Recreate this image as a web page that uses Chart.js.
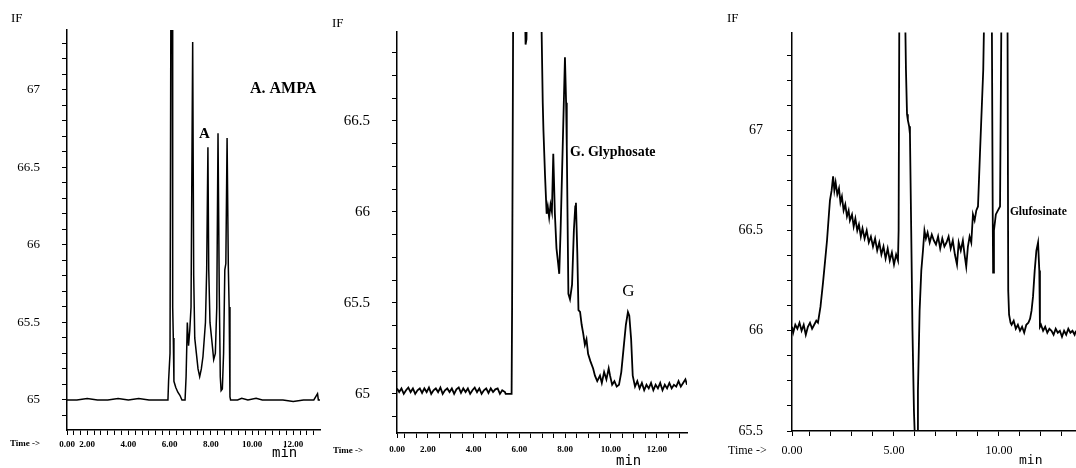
<!DOCTYPE html>
<html>
<head>
<meta charset="utf-8">
<script src="https://cdn.jsdelivr.net/npm/chart.js@4.4.1/dist/chart.umd.min.js"></script>
<style>
  html, body { margin: 0; padding: 0; background: #fff; }
  #page { position: relative; width: 1076px; height: 468px; overflow: hidden; background: #fff; }
  canvas { position: absolute; top: 0; }
  .lbl { position: absolute; font-family: "Liberation Serif", serif; color: #000; white-space: nowrap; line-height: 1; }
  .unit { position: absolute; font-family: "DejaVu Sans Mono", monospace; color: #000; line-height: 1; }
</style>
</head>
<body>
<div id="page">
  <canvas id="c1" width="330" height="468" style="left:0px"></canvas>
  <canvas id="c2" width="370" height="468" style="left:330px"></canvas>
  <canvas id="c3" width="376" height="468" style="left:700px"></canvas>

  <div class="lbl" style="left:11px;top:11px;font-size:13px">IF</div>
  <div class="lbl" style="left:332px;top:16px;font-size:13px">IF</div>
  <div class="lbl" style="left:727px;top:11px;font-size:13px">IF</div>

  <div class="lbl" style="left:10px;top:439px;font-size:9px;font-weight:bold">Time -&gt;</div>
  <div class="lbl" style="left:333px;top:446px;font-size:9px;font-weight:bold">Time -&gt;</div>
  <div class="lbl" style="left:728px;top:444px;font-size:12px">Time -&gt;</div>

  <div class="unit" style="left:272px;top:445px;font-size:14px">min</div>
  <div class="unit" style="left:616px;top:453px;font-size:14px">min</div>
  <div class="unit" style="left:1019px;top:453px;font-size:13px">min</div>
</div>
<script>
// A. AMPA trace (time in min, IF)
const ampaTime = [1.02, 1.5, 2.0, 2.5, 3.0, 3.5, 4.0, 4.5, 5.0, 5.5, 5.92,
  5.95, 6.02, 6.07, 6.12, 6.15, 6.18, 6.21, 6.3, 6.4, 6.5, 6.6, 6.75,
  6.8, 6.86, 6.92, 6.98, 7.04, 7.12, 7.17, 7.22, 7.3, 7.38, 7.46, 7.54, 7.62,
  7.74, 7.8, 7.86, 7.9, 7.96, 8.06, 8.14, 8.22, 8.29, 8.35, 8.41, 8.46, 8.5,
  8.56, 8.62, 8.68, 8.73, 8.79, 8.85, 8.89, 8.93, 8.96,
  9.3, 9.5, 9.8, 10.2, 10.5, 11.0, 11.5, 12.0, 12.5, 13.0, 13.18, 13.22, 13.3];
const ampaIF = [65.0, 65.0, 65.01, 65.0, 65.0, 65.01, 65.0, 65.01, 65.0, 65.0, 65.0,
  65.12, 65.3, 68.0, 68.0, 65.6, 65.4, 65.12, 65.08, 65.05, 65.03, 65.0, 65.0,
  65.15, 65.5, 65.35, 65.45, 65.6, 67.31, 65.8, 65.4, 65.3, 65.2, 65.15, 65.2, 65.28,
  65.5, 65.84, 66.63, 65.84, 65.5, 65.37, 65.26, 65.3, 65.6, 66.72, 65.7, 65.15, 65.06,
  65.07, 65.3, 65.84, 65.88, 66.69, 65.86, 65.6, 65.02, 65.0,
  65.0, 65.01, 65.0, 65.01, 65.0, 65.0, 65.0, 64.99, 65.0, 65.0, 65.04, 65.0, 65.0];

// G. Glyphosate trace
const glyTime = [0.655, 0.75, 0.85, 0.95, 1.05, 1.15, 1.25, 1.35, 1.45, 1.55, 1.65,
  1.75, 1.85, 1.95, 2.05, 2.15, 2.25, 2.35, 2.45, 2.55, 2.65, 2.75, 2.85, 2.95,
  3.05, 3.15, 3.25, 3.35, 3.45, 3.55, 3.65, 3.75, 3.85, 3.95, 4.05, 4.15, 4.25,
  4.35, 4.45, 4.55, 4.65, 4.75, 4.85, 4.95, 5.05, 5.15, 5.25, 5.37, 5.4, 5.66, 5.68, 5.74,
  6.2, 6.27, 6.31, 6.35, 6.94, 6.97, 7.02, 7.05, 7.12, 7.19, 7.24, 7.3, 7.36, 7.42,
  7.48, 7.55, 7.62, 7.69, 7.74, 7.8, 7.9, 7.99, 8.04, 8.07, 8.14, 8.21, 8.3, 8.38,
  8.44, 8.47, 8.53, 8.58, 8.65, 8.72, 8.79, 8.86, 8.93, 9.0, 9.1, 9.22, 9.3, 9.4,
  9.52, 9.6, 9.7, 9.8, 9.9, 9.96, 10.05, 10.15, 10.25, 10.35, 10.45, 10.55, 10.65,
  10.74, 10.8, 10.88, 10.95, 11.05, 11.15, 11.25, 11.35, 11.45, 11.55, 11.65, 11.75,
  11.85, 11.95, 12.05, 12.15, 12.25, 12.35, 12.45, 12.55, 12.65, 12.75, 12.85, 12.95,
  13.05, 13.15, 13.25, 13.32];
const glyIF = [65.03, 65.01, 65.03, 65.0, 65.02, 65.035, 65.01, 65.03, 65.0, 65.02, 65.03,
  65.005, 65.03, 65.01, 65.035, 65.0, 65.02, 65.03, 65.01, 65.035, 65.0, 65.02, 65.03, 65.01,
  65.03, 65.0, 65.025, 65.035, 65.005, 65.03, 65.01, 65.03, 65.0, 65.02, 65.035, 65.01, 65.03,
  65.0, 65.02, 65.03, 65.005, 65.03, 65.01, 65.025, 65.03, 65.0, 65.02, 65.01, 65.0, 65.0, 65.45, 67.5,
  67.5, 66.92, 66.95, 67.5, 67.5, 67.0, 66.6, 66.45, 66.2, 65.99, 66.03, 65.97, 66.04, 66.0,
  66.32, 65.99, 65.8, 65.72, 65.66, 65.9, 66.4, 66.85, 66.6, 66.36, 65.55, 65.52, 65.6, 65.9,
  66.03, 66.05, 65.77, 65.46, 65.45, 65.38, 65.33, 65.27, 65.3, 65.22, 65.18, 65.14, 65.1, 65.07,
  65.1, 65.06, 65.12, 65.08, 65.14, 65.1, 65.05, 65.07, 65.04, 65.05, 65.12, 65.25, 65.38,
  65.45, 65.43, 65.3, 65.1, 65.04, 65.07, 65.03, 65.06, 65.02, 65.05, 65.03, 65.06,
  65.02, 65.05, 65.03, 65.06, 65.02, 65.05, 65.03, 65.06, 65.03, 65.05, 65.04, 65.07,
  65.04, 65.06, 65.08, 65.05];

// Glufosinate trace
const gluTime = [0.143, 0.2, 0.3, 0.4, 0.5, 0.6, 0.7, 0.8, 0.9, 1.0, 1.1, 1.2, 1.3, 1.38,
  1.5, 1.62, 1.72, 1.81, 1.9, 1.95, 2.03, 2.1, 2.16, 2.22, 2.3, 2.38, 2.45, 2.52, 2.6,
  2.68, 2.76, 2.84, 2.9, 3.0, 3.08, 3.16, 3.25, 3.33, 3.42, 3.5, 3.6, 3.7, 3.8, 3.9,
  4.0, 4.1, 4.2, 4.3, 4.4, 4.5, 4.6, 4.7, 4.8, 4.9, 5.0, 5.1, 5.19, 5.22, 5.26, 5.5,
  5.57, 5.62, 5.66, 5.72, 5.76, 5.82, 5.88, 5.95, 6.0, 6.05, 6.1, 6.14, 6.22, 6.3,
  6.38, 6.45, 6.52, 6.6, 6.7, 6.8, 6.9, 7.0, 7.1, 7.2, 7.3, 7.4, 7.5, 7.6, 7.7, 7.8,
  7.9, 8.0, 8.08, 8.18, 8.28, 8.36, 8.44, 8.52, 8.6, 8.68, 8.76, 8.84, 8.92, 9.0,
  9.1, 9.25, 9.33, 9.65, 9.7, 9.72, 9.76, 9.85, 9.95, 10.05, 10.13, 10.4, 10.44,
  10.48, 10.55, 10.6, 10.7, 10.8, 10.9, 11.0, 11.1, 11.2, 11.3, 11.4, 11.48, 11.55,
  11.62, 11.7, 11.78, 11.86, 11.92, 11.95, 12.0, 12.1, 12.2, 12.3, 12.4, 12.5, 12.6,
  12.7, 12.8, 12.9, 13.0, 13.1, 13.2, 13.3, 13.4, 13.5, 13.6, 13.667];
const gluIF = [66.02, 65.99, 66.03, 66.01, 66.04, 66.0, 66.03, 65.98, 66.02, 66.04, 66.01, 66.03, 66.05, 66.04,
  66.12, 66.24, 66.35, 66.45, 66.58, 66.65, 66.7, 66.77, 66.7, 66.74, 66.68, 66.71, 66.64, 66.67, 66.6,
  66.63, 66.57, 66.6, 66.55, 66.58, 66.52, 66.56, 66.5, 66.53, 66.47, 66.51, 66.46, 66.5, 66.44, 66.47,
  66.42, 66.46, 66.4, 66.44, 66.38, 66.42, 66.36, 66.41, 66.35, 66.39, 66.33, 66.38, 66.35, 66.5, 67.8, 67.8,
  67.3, 67.08, 67.05, 67.02, 66.98, 66.5, 66.0, 65.6, 65.45, 65.3, 65.45, 65.7, 66.1, 66.3,
  66.4, 66.5, 66.46, 66.49, 66.44, 66.48, 66.45, 66.43, 66.47, 66.41, 66.46, 66.42, 66.44, 66.47, 66.41, 66.45,
  66.38, 66.33, 66.44, 66.4, 66.45, 66.38, 66.32, 66.42, 66.47, 66.44, 66.58, 66.55, 66.6, 66.62,
  66.9, 67.3, 67.8, 67.8, 66.6, 66.29, 66.5, 66.58, 66.6, 66.62, 67.8, 67.8, 66.2,
  66.08, 66.04, 66.03, 66.05, 66.01, 66.03, 66.0, 66.02, 65.99, 66.03, 66.04, 66.06, 66.1,
  66.17, 66.3, 66.4, 66.44, 66.3, 66.02, 66.03, 66.0, 66.02, 65.99, 66.01, 66.0, 65.98,
  66.01, 65.99, 66.0, 65.97, 66.0, 65.98, 66.01, 65.99, 66.0, 65.98, 66.0];

// labelled ticks
const ampaTimeLabels = [2, 4, 6, 8, 10, 12];
const glyTimeLabels = [2, 4, 6, 8, 10, 12];
const gluTimeLabels = [5, 10];
const ampaIFLabels = [65, 65.5, 66, 66.5, 67];
const glyIFLabels = [65, 65.5, 66, 66.5];
const gluIFLabels = [65.5, 66, 66.5, 67];

function makeTicks(lo, hi, step, first) {
  const out = [];
  if (first != null) out.push(first);
  const k0 = Math.ceil(lo / step - 1e-9);
  for (let k = k0; k * step <= hi + 1e-9; k++) {
    const v = Math.round(k * step * 1000) / 1000;
    if (first != null && v - first < step * 0.5) continue;
    out.push(v);
  }
  return out.map(v => ({ value: v }));
}

function has(list, v) {
  return list.some(l => Math.abs(l - v) < 1e-6);
}

const notes = {
  id: 'notes',
  afterDatasetsDraw(chart, args, opts) {
    const { ctx, scales } = chart;
    (opts.items || []).forEach(n => {
      ctx.save();
      ctx.font = n.font;
      ctx.fillStyle = '#000';
      ctx.textAlign = n.align || 'left';
      ctx.textBaseline = 'middle';
      ctx.fillText(n.text, scales.x.getPixelForValue(n.t), scales.y.getPixelForValue(n.v));
      ctx.restore();
    });
  }
};

function panel(id, cfg) {
  const pts = cfg.time.map((t, i) => ({ x: t, y: cfg.values[i] }));
  return new Chart(document.getElementById(id), {
    type: 'line',
    data: {
      datasets: [{
        data: pts,
        borderColor: '#000',
        borderWidth: cfg.lineWidth,
        pointRadius: 0,
        tension: 0,
        fill: false,
        clip: 0
      }]
    },
    options: {
      responsive: false,
      animation: false,
      events: [],
      layout: { padding: cfg.padding },
      plugins: {
        legend: { display: false },
        tooltip: { enabled: false },
        notes: { items: cfg.notes }
      },
      scales: {
        x: {
          type: 'linear',
          min: cfg.xMin,
          max: cfg.xMax,
          afterBuildTicks: s => { s.ticks = makeTicks(cfg.xMin, cfg.xMax, cfg.xStep, cfg.xMin); },
          afterFit: s => { s.height = cfg.xHeight; },
          grid: { drawOnChartArea: false, drawTicks: true, tickLength: 5, color: '#000', lineWidth: 1 },
          border: { display: true, color: '#000', width: 1.5 },
          ticks: {
            autoSkip: false,
            maxRotation: 0,
            minRotation: 0,
            padding: cfg.xPad,
            color: '#000',
            font: { family: 'Liberation Serif', size: cfg.xFont, weight: cfg.xWeight },
            callback: (v, i) => i === 0 ? '0.00' : (has(cfg.xLabels, v) ? v.toFixed(2) : '')
          }
        },
        y: {
          type: 'linear',
          min: cfg.yMin,
          max: cfg.yMax,
          afterBuildTicks: s => { s.ticks = makeTicks(cfg.yMin, cfg.yMax, cfg.yStep); },
          afterFit: s => { s.width = cfg.yWidth; },
          grid: { drawOnChartArea: false, drawTicks: true, tickLength: 5, color: '#000', lineWidth: 1 },
          border: { display: true, color: '#000', width: 1.5 },
          ticks: {
            autoSkip: false,
            padding: cfg.yPad,
            color: '#000',
            font: { family: 'Liberation Serif', size: cfg.yFont },
            callback: v => has(cfg.yLabels, v) ? String(v) : ''
          }
        }
      }
    },
    plugins: [notes]
  });
}

panel('c1', {
  time: ampaTime, values: ampaIF, lineWidth: 1.5,
  xMin: 1.02, xMax: 13.3, xStep: 1 / 3, xLabels: ampaTimeLabels,
  yMin: 64.806, yMax: 67.387, yStep: 0.1, yLabels: ampaIFLabels,
  padding: { left: 0, top: 30, right: 10, bottom: 0 },
  xHeight: 38, yWidth: 67, xPad: 4, yPad: 22, xFont: 9, xWeight: 'bold', yFont: 13,
  notes: [
    { text: 'A. AMPA', t: 9.9, v: 67.006, font: 'bold 16px "Liberation Serif"' },
    { text: 'A', t: 7.69, v: 66.716, font: 'bold 15px "Liberation Serif"', align: 'center' }
  ]
});

panel('c2', {
  time: glyTime, values: glyIF, lineWidth: 1.8,
  xMin: 0.655, xMax: 13.32, xStep: 0.5, xLabels: glyTimeLabels,
  yMin: 64.785, yMax: 66.989, yStep: 0.125, yLabels: glyIFLabels,
  padding: { left: 0, top: 32, right: 13, bottom: 0 },
  xHeight: 35, yWidth: 67, xPad: 6, yPad: 22, xFont: 9, xWeight: 'bold', yFont: 15,
  notes: [
    { text: 'G. Glyphosate', t: 8.21, v: 66.33, font: 'bold 14px "Liberation Serif"' },
    { text: 'G', t: 10.76, v: 65.56, font: '17px "Liberation Serif"', align: 'center' }
  ]
});

panel('c3', {
  time: gluTime, values: gluIF, lineWidth: 1.8,
  xMin: 0.143, xMax: 13.667, xStep: 1, xLabels: gluTimeLabels,
  yMin: 65.5, yMax: 67.488, yStep: 0.125, yLabels: gluIFLabels,
  padding: { left: 0, top: 32, right: 0, bottom: 0 },
  xHeight: 37, yWidth: 92, xPad: 8, yPad: 24, xFont: 12, xWeight: 'normal', yFont: 14,
  notes: [
    { text: 'Glufosinate', t: 10.52, v: 66.59, font: 'bold 11.5px "Liberation Serif"' }
  ]
});
</script>
</body>
</html>
